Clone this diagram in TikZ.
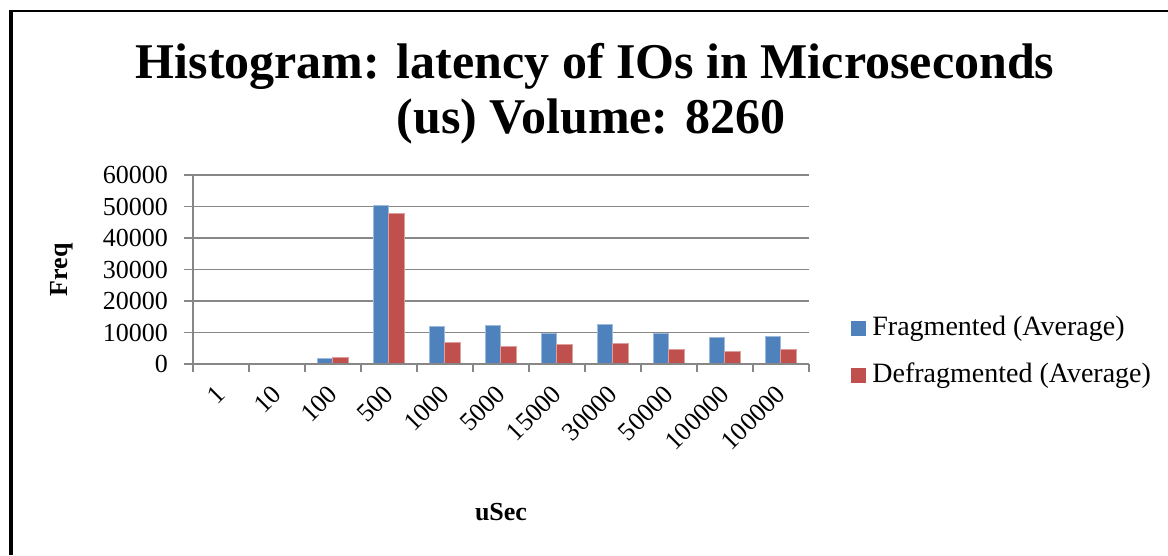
\documentclass[tikz,border=0pt]{standalone}
\usepackage{fontspec}
\setmainfont{Liberation Serif}
\usetikzlibrary{positioning}

\definecolor{fragblue}{HTML}{4F81BD}
\definecolor{defragred}{HTML}{C0504D}
\definecolor{gridgray}{HTML}{878787}

\begin{document}
\begin{tikzpicture}[%
  x=1pt, y=-1pt,
  gridline/.style={gridgray, line width=1.8pt},
  fragbar/.style={fill=fragblue, draw=fragblue!55!white, line width=0.6pt},
  defragbar/.style={fill=defragred, draw=defragred!55!white, line width=0.6pt},
  ticklabel/.style={font=\fontsize{26}{30}\selectfont, inner sep=0pt},
  legendlabel/.style={font=\fontsize{28}{32}\selectfont, inner sep=0pt},
  axistitle/.style={font=\bfseries\fontsize{26}{30}\selectfont, inner sep=0pt},
  legendkey/.style={minimum size=15pt, inner sep=0pt},
]

  \useasboundingbox (0,0) rectangle (1168,555);

  % frame
  \draw[line width=2.5pt] (11,11) -- (1168,11);
  \draw[line width=4pt] (11,9.75) -- (11,555);

  % title
  \node[anchor=base, inner sep=0pt, font=\bfseries\fontsize{50}{55}\selectfont]
    (title1) at (595,78) {Histogram: latency of IOs in Microseconds};
  \node[anchor=base, inner sep=0pt, font=\bfseries\fontsize{50}{55}\selectfont]
    (title2) at (591,133) {(us) Volume: 8260};

  % grid and y labels
  \foreach \v [count=\k from 0] in {0,10000,20000,30000,40000,50000,60000} {
    \draw[gridline] (184,364-31.5*\k) -- (809,364-31.5*\k);
    \node[ticklabel, anchor=east] (ylab\k) at (168,364-31.5*\k) {\v};
  }

  % bars (values in thousands)
  \foreach \fv/\dv [count=\i from 2] in {1.9/2.2, 50.5/47.9, 12.0/7.0,
      12.4/5.7, 9.8/6.3, 12.7/6.7, 9.8/4.8, 8.6/4.1, 8.9/4.8} {
    \draw[fragbar] (193+56*\i+12,364) rectangle (193+56*\i+27.5,364-3.15*\fv);
    \draw[defragbar] (193+56*\i+27.5,364) rectangle (193+56*\i+43,364-3.15*\dv);
  }

  % axes
  \draw[gridline] (193,175) -- (193,364);
  \draw[gridline] (184,364) -- (809,364);
  \foreach \k in {0,...,11}
    \draw[gridline] (193+56*\k,364) -- (193+56*\k,372);

  % x labels
  \foreach \lab [count=\i from 0] in {1,10,100,500,1000,5000,15000,30000,50000,100000,100000}
    \node[ticklabel, anchor=east, rotate=45] (xlab\i) at (221+56*\i,390) {\lab};

  \node[axistitle, rotate=90] (ytitle) at (62,270) {Freq};
  \node[axistitle] (xtitle) at (501,512) {uSec};

  % legend
  \node[legendkey, fill=fragblue] (keyfrag) at (858.5,328.5) {};
  \node[legendlabel, anchor=west, right=6pt of keyfrag] (labfrag) {Fragmented (Average)};
  \node[legendkey, fill=defragred] (keydefrag) at (858.5,375.5) {};
  \node[legendlabel, anchor=west, right=6pt of keydefrag] (labdefrag) {Defragmented (Average)};

\end{tikzpicture}
\end{document}
